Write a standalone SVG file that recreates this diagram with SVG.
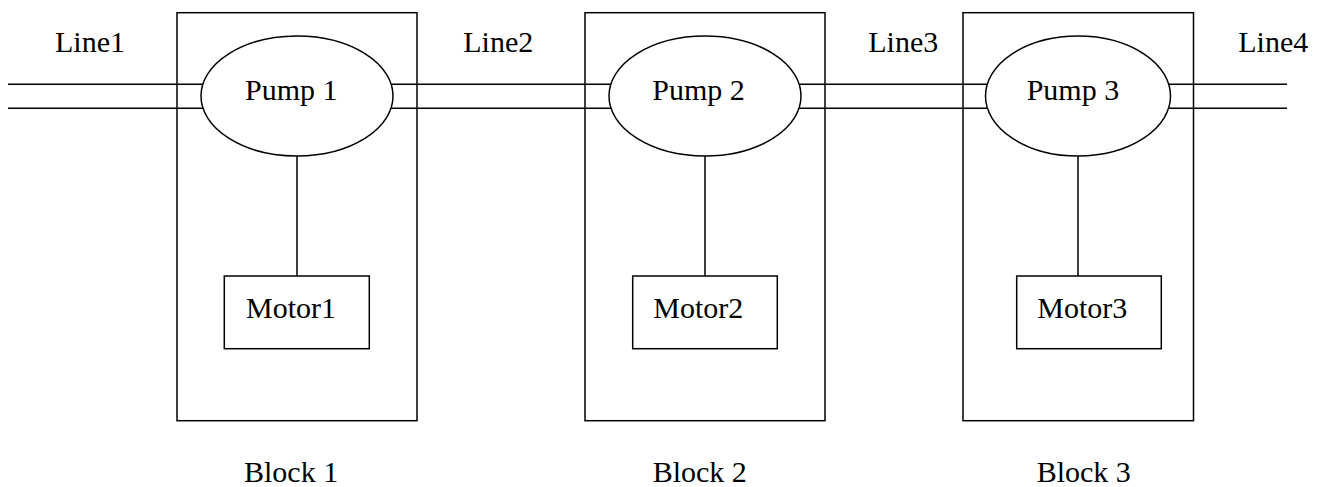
<svg xmlns="http://www.w3.org/2000/svg" width="1343" height="487" viewBox="0 0 1343 487">
<style>
.s{fill:none;stroke:#000;stroke-width:1.5}
.w{fill:#fff;stroke:#000;stroke-width:1.5}
text{font-family:"Liberation Serif","Times New Roman",serif;font-size:30px;fill:#000}
</style>
<rect width="1343" height="487" fill="#fff"/>
<g id="block1"><rect class="s" x="177" y="12.7" width="240" height="408"/></g>
<g id="block2"><rect class="s" x="585" y="12.7" width="240" height="408"/></g>
<g id="block3"><rect class="s" x="963" y="12.7" width="230.5" height="408"/></g>
<g id="connectors">
<path class="s" d="M8 84.3H203M8 108.3H203M391 84.3H611M391 108.3H611M799 84.3H987.5M799 108.3H987.5M1168.5 84.3H1287M1168.5 108.3H1287"/>
<path class="s" d="M297 156V276M705 156V276M1078 156V276"/>
</g>
<g id="pump1"><ellipse class="w" cx="297" cy="96" rx="96" ry="60"/><text x="245" y="100">Pump 1</text></g>
<g id="pump2"><ellipse class="w" cx="705" cy="96" rx="96" ry="60"/><text x="652.3" y="100">Pump 2</text></g>
<g id="pump3"><ellipse class="w" cx="1078" cy="96" rx="92.5" ry="60"/><text x="1026.7" y="100">Pump 3</text></g>
<g id="motor1"><rect class="w" x="224.3" y="276" width="145" height="72.7"/><text x="246" y="317.7">Motor1</text></g>
<g id="motor2"><rect class="w" x="632.7" y="276" width="144.6" height="72.7"/><text x="653.3" y="317.7">Motor2</text></g>
<g id="motor3"><rect class="w" x="1016.7" y="276" width="144.6" height="72.7"/><text x="1037.3" y="317.7">Motor3</text></g>
<g id="labels">
<text x="55" y="52.3">Line1</text>
<text x="463.3" y="52.3">Line2</text>
<text x="868.3" y="52.3">Line3</text>
<text x="1238.3" y="52.3">Line4</text>
<text x="244" y="482">Block 1</text>
<text x="652.7" y="482">Block 2</text>
<text x="1036.7" y="482">Block 3</text>
</g>
</svg>
